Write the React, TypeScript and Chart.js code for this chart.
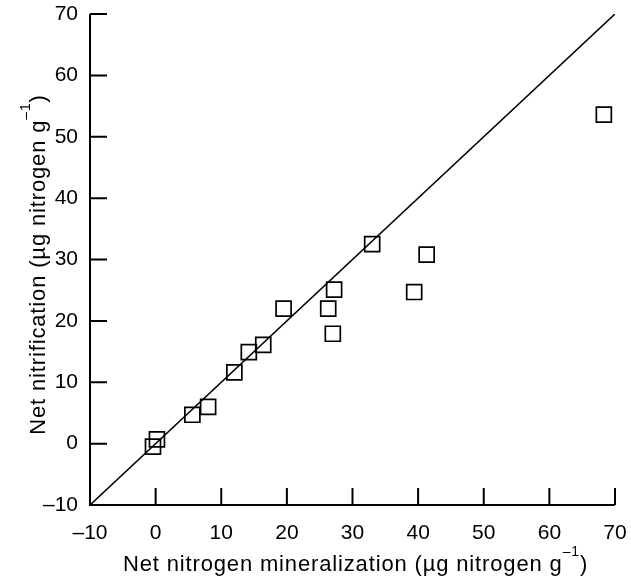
import React, { useEffect, useRef } from 'react';
import { Chart, registerables } from 'chart.js';

Chart.register(...registerables);

// Net nitrogen mineralization vs. net nitrification (µg nitrogen g^-1)
const mineralization = [-0.4, 0.2, 5.6, 8.0, 12.0, 14.2, 16.4, 19.5, 26.3, 27.2, 27.0, 33.0, 39.4, 41.3, 68.3];
const nitrification = [-0.5, 0.7, 4.7, 6.0, 11.6, 14.9, 16.1, 22.0, 22.0, 25.1, 17.9, 32.5, 24.7, 30.8, 53.6];

// 1:1 reference line endpoints
const oneToOne = [-10, 70];

const axisMin = -10;
const axisMax = 70;
const tickStep = 10;

const xTitleMain = 'Net nitrogen mineralization (µg nitrogen g';
const yTitleMain = 'Net nitrification (µg nitrogen g';
const unitExponent = '\u20131';
const unitClose = ')';

const FONT = '"Liberation Sans", Arial, Helvetica, sans-serif';
const TITLE_SIZE = 22;
const TITLE_SPACING = '0.85px';
const SUP_SIZE = 14;
const SUP_RAISE = 15;
const TICK_LEN = 17;

const fmt = (v: number) => (v < 0 ? '\u2013' + Math.abs(v) : String(v));

// Draws the L-shaped axes with inward ticks, and the axis titles with a superscript exponent.
const axesPlugin = {
  id: 'inwardAxes',
  afterDraw(chart: any) {
    const { ctx, chartArea: a, scales } = chart;
    const xs = scales.x;
    const ys = scales.y;
    ctx.save();
    ctx.strokeStyle = '#000';
    ctx.lineWidth = 2;
    ctx.beginPath();
    ctx.moveTo(a.left, a.top);
    ctx.lineTo(a.left, a.bottom);
    ctx.lineTo(a.right, a.bottom);
    ctx.stroke();

    ctx.beginPath();
    xs.ticks.forEach((t: any) => {
      if (t.value === axisMin) return;
      const p = xs.getPixelForValue(t.value);
      ctx.moveTo(p, a.bottom);
      ctx.lineTo(p, a.bottom - TICK_LEN);
    });
    ys.ticks.forEach((t: any) => {
      if (t.value === axisMin) return;
      const p = ys.getPixelForValue(t.value);
      ctx.moveTo(a.left, p);
      ctx.lineTo(a.left + TICK_LEN, p);
    });
    ctx.stroke();

    const drawTitle = (main: string) => {
      ctx.fillStyle = '#000';
      ctx.textBaseline = 'alphabetic';
      ctx.textAlign = 'left';
      try {
        (ctx as any).letterSpacing = TITLE_SPACING;
      } catch (e) {
        /* older canvas without letterSpacing */
      }
      ctx.font = `${TITLE_SIZE}px ${FONT}`;
      const wMain = ctx.measureText(main).width;
      const wClose = ctx.measureText(unitClose).width;
      ctx.font = `${SUP_SIZE}px ${FONT}`;
      const wSup = ctx.measureText(unitExponent).width;
      const total = wMain + wSup + wClose;
      let x = -total / 2;
      ctx.font = `${TITLE_SIZE}px ${FONT}`;
      ctx.fillText(main, x, 0);
      x += wMain;
      ctx.font = `${SUP_SIZE}px ${FONT}`;
      ctx.fillText(unitExponent, x, -SUP_RAISE);
      x += wSup;
      ctx.font = `${TITLE_SIZE}px ${FONT}`;
      ctx.fillText(unitClose, x, 0);
      try {
        (ctx as any).letterSpacing = '0px';
      } catch (e) {
        /* ignore */
      }
    };

    ctx.save();
    ctx.translate((a.left + a.right) / 2 + 3, a.bottom + 66);
    drawTitle(xTitleMain);
    ctx.restore();

    ctx.save();
    ctx.translate(a.left - 45, (a.top + a.bottom) / 2 + 5);
    ctx.rotate(-Math.PI / 2);
    drawTitle(yTitleMain);
    ctx.restore();

    ctx.restore();
  },
};

export default function App() {
  const canvasRef = useRef<HTMLCanvasElement | null>(null);

  useEffect(() => {
    const canvas = canvasRef.current;
    if (!canvas) return;
    const points = mineralization.map((x, i) => ({ x, y: nitrification[i] }));
    const line = oneToOne.map((v) => ({ x: v, y: v }));

    const tickFont = { family: FONT, size: 21 };

    const chart = new Chart(canvas, {
      type: 'scatter',
      data: {
        datasets: [
          {
            label: '1:1',
            data: line,
            showLine: true,
            borderColor: '#000',
            borderWidth: 1.6,
            pointRadius: 0,
            fill: false,
          },
          {
            label: 'Samples',
            data: points,
            pointStyle: 'rect',
            pointRadius: 10.6,
            pointBorderWidth: 1.7,
            pointBorderColor: '#000',
            pointBackgroundColor: 'rgba(0,0,0,0)',
          },
        ],
      },
      options: {
        responsive: false,
        animation: false,
        events: [],
        layout: { autoPadding: false, padding: { top: 14, right: 16, left: 0, bottom: 0 } },
        plugins: {
          legend: { display: false },
          tooltip: { enabled: false },
        },
        scales: {
          x: {
            type: 'linear',
            min: axisMin,
            max: axisMax,
            grid: { display: false, drawTicks: false },
            border: { display: false },
            ticks: {
              stepSize: tickStep,
              color: '#000',
              font: tickFont,
              padding: 16,
              maxRotation: 0,
              callback: (v: any) => fmt(Number(v)),
            },
            afterFit: (s: any) => {
              s.height = 76;
              s.paddingLeft = 0;
              s.paddingRight = 0;
            },
          },
          y: {
            type: 'linear',
            min: axisMin,
            max: axisMax,
            grid: { display: false, drawTicks: false },
            border: { display: false },
            ticks: {
              stepSize: tickStep,
              color: '#000',
              font: tickFont,
              padding: 12,
              callback: (v: any) => fmt(Number(v)),
            },
            afterFit: (s: any) => {
              s.width = 90;
              s.paddingTop = 0;
              s.paddingBottom = 0;
            },
          },
        },
      },
      plugins: [axesPlugin],
    });

    return () => chart.destroy();
  }, []);

  return (
    <div style={{ position: 'fixed', left: 0, top: 0, width: 631, height: 581, background: '#fff' }}>
      <canvas ref={canvasRef} width={631} height={581} style={{ display: 'block' }} />
    </div>
  );
}
